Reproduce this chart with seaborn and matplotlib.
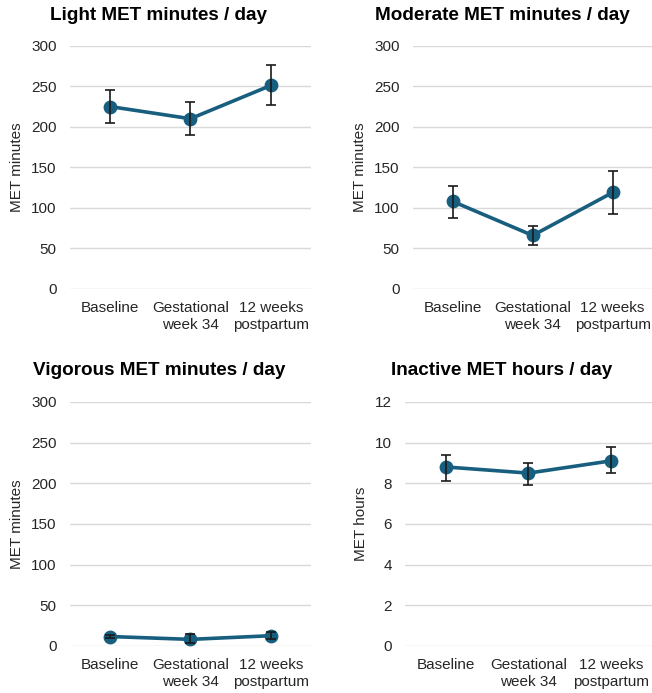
import matplotlib
matplotlib.use("Agg")
import matplotlib.pyplot as plt
import seaborn as sns
import pandas as pd

# --- data ---
timepoints = ["Baseline", "Gestational\nweek 34", "12 weeks\npostpartum"]

light_mean = [225, 210, 251]
light_lo = [205, 190, 227]
light_hi = [245, 230, 276]

moderate_mean = [108, 66, 119]
moderate_lo = [88, 54, 92]
moderate_hi = [127, 78, 146]

vigorous_mean = [11.5, 8, 12.5]
vigorous_lo = [9.5, 3, 8]
vigorous_hi = [13.5, 14, 17]

inactive_mean = [8.8, 8.5, 9.1]
inactive_lo = [8.1, 7.9, 8.5]
inactive_hi = [9.4, 9.0, 9.8]

panels = [
    ("Light MET minutes / day", "MET minutes", light_mean, light_lo, light_hi, 300, 50),
    ("Moderate MET minutes / day", "MET minutes", moderate_mean, moderate_lo, moderate_hi, 300, 50),
    ("Vigorous MET minutes / day", "MET minutes", vigorous_mean, vigorous_lo, vigorous_hi, 300, 50),
    ("Inactive MET hours / day", "MET hours", inactive_mean, inactive_lo, inactive_hi, 12, 2),
]

sns.set_theme(style="white")
plt.rcParams["font.family"] = ["Liberation Sans", "DejaVu Sans"]

color = "#185E7E"
fig = plt.figure(figsize=(6.52, 6.93), dpi=100)

# axes rectangles [left, bottom, width, height] and title centre (x, y) in figure fraction
boxes = [
    ([0.107, 0.583, 0.370, 0.351], (0.243, 0.978)),
    ([0.633, 0.583, 0.368, 0.351], (0.770, 0.978)),
    ([0.107, 0.068, 0.370, 0.352], (0.244, 0.466)),
    ([0.621, 0.068, 0.379, 0.352], (0.769, 0.466)),
]

for (title, ylabel, mean, lo, hi, ymax, step), (rect, tpos) in zip(panels, boxes):
    ax = fig.add_axes(rect)
    df = pd.DataFrame({"time": timepoints, "value": mean})
    sns.pointplot(data=df, x="time", y="value", color=color, errorbar=None,
                  markersize=8, linewidth=2.6, ax=ax)
    yerr = [[m - l for m, l in zip(mean, lo)], [h - m for m, h in zip(mean, hi)]]
    ax.errorbar(range(len(mean)), mean, yerr=yerr, fmt="none", ecolor="#1a1a1a",
                elinewidth=1.2, capsize=3.5, capthick=1.2, zorder=5)
    ax.set_ylim(0, ymax)
    ax.set_yticks(range(0, ymax + 1, step))
    ax.set_xlim(-0.5, 2.5)
    ax.grid(axis="y", color="#d9d9d9", linewidth=1.0)
    ax.set_axisbelow(True)
    sns.despine(ax=ax, left=True, bottom=True)
    ax.tick_params(axis="both", length=0, labelsize=11, colors="#262626")
    ax.tick_params(axis="y", pad=9.5)
    ax.tick_params(axis="x", pad=9)
    ax.set_xlabel("")
    ax.set_ylabel(ylabel, fontsize=11, color="#262626", labelpad=5)
    fig.text(tpos[0], tpos[1], title, ha="center", va="center", fontsize=13.6,
             fontweight="bold", color="black")

fig.savefig("out.png", dpi=100, facecolor="white")
